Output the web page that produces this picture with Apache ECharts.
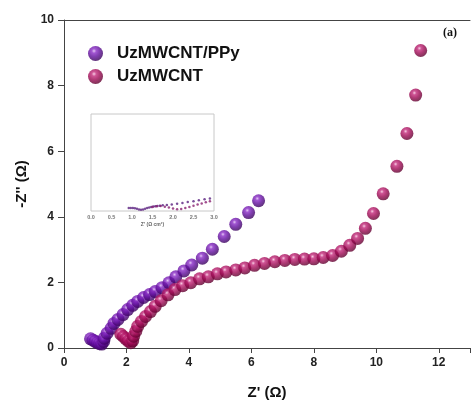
<!DOCTYPE html>
<html>
<head>
<meta charset="utf-8">
<script src="https://cdn.jsdelivr.net/npm/echarts@6/dist/echarts.min.js"></script>
<style>html,body{margin:0;padding:0;background:#fff;}#c{width:473px;height:405px;}</style>
</head>
<body>
<div id="c"></div>
<script>
// Main plot data [Z', -Z'']
var ppyData = [[0.85,0.28],[0.93,0.24],[1.0,0.2],[1.07,0.16],[1.14,0.13],[1.21,0.12],[1.27,0.2],[1.29,0.30],[1.38,0.45],[1.51,0.60],[1.60,0.75],[1.73,0.87],[1.89,1.02],[2.04,1.17],[2.20,1.30],[2.36,1.42],[2.55,1.54],[2.74,1.63],[2.92,1.72],[3.14,1.84],[3.36,1.99],[3.58,2.17],[3.84,2.35],[4.09,2.53],[4.43,2.74],[4.75,3.01],[5.13,3.40],[5.50,3.77],[5.91,4.13],[6.23,4.49]];
var mwcntData = [[1.82,0.42],[1.9,0.35],[1.98,0.28],[2.06,0.21],[2.14,0.16],[2.2,0.22],[2.23,0.36],[2.30,0.51],[2.36,0.66],[2.48,0.81],[2.61,0.96],[2.77,1.11],[2.92,1.27],[3.11,1.44],[3.33,1.62],[3.55,1.78],[3.80,1.90],[4.06,1.99],[4.34,2.11],[4.62,2.17],[4.91,2.26],[5.19,2.32],[5.50,2.38],[5.79,2.44],[6.10,2.52],[6.42,2.58],[6.75,2.63],[7.07,2.67],[7.39,2.70],[7.70,2.71],[8.00,2.72],[8.30,2.76],[8.60,2.82],[8.88,2.95],[9.15,3.13],[9.40,3.34],[9.65,3.65],[9.91,4.10],[10.22,4.70],[10.66,5.54],[10.98,6.54],[11.26,7.71],[11.42,9.07]];
// Inset data
var insetPpy = [[0.92,0.03],[0.97,0.03],[1.02,0.03],[1.07,0.028],[1.12,0.022],[1.17,0.015],[1.22,0.012],[1.27,0.015],[1.32,0.022],[1.37,0.03],[1.42,0.036],[1.47,0.042],[1.52,0.046],[1.57,0.05],[1.62,0.052],[1.68,0.055],[1.75,0.058],[1.85,0.062],[1.97,0.068],[2.1,0.075],[2.23,0.083],[2.36,0.092],[2.5,0.1],[2.63,0.11],[2.77,0.12],[2.9,0.13]];
var insetMwcnt = [[1.5,0.04],[1.6,0.048],[1.7,0.052],[1.8,0.045],[1.9,0.035],[2.0,0.025],[2.1,0.018],[2.2,0.02],[2.3,0.03],[2.4,0.042],[2.5,0.055],[2.6,0.066],[2.7,0.078],[2.8,0.09],[2.9,0.1]];
var xTicks = [0,2,4,6,8,10,12];
var yTicks = [0,2,4,6,8,10];
var insetXTicks = ['0.0','0.5','1.0','1.5','2.0','2.5','3.0'];
var seriesNames = ['UzMWCNT/PPy','UzMWCNT'];

function sphere(c0,c1,c2,c3){
  return {type:'radial',x:0.4,y:0.33,r:0.68,colorStops:[
    {offset:0,color:c0},{offset:0.22,color:c1},{offset:0.55,color:c2},{offset:1,color:c3}]};
}
var purple = sphere('#dcb6f2','#8a2cc6','#620e9e','#38005a');
var magenta = sphere('#f5c0dc','#c22a7a','#9e0954','#5e002d');
var font = 'Liberation Sans, Arial, sans-serif';

var chart = echarts.init(document.getElementById('c'));
chart.setOption({
  animation:false,
  backgroundColor:'#fff',
  legend:{
    data:seriesNames, orient:'vertical', left:83, top:40, itemGap:6,
    itemWidth:15, itemHeight:15, icon:'circle',
    textStyle:{fontFamily:font,fontWeight:'bold',fontSize:17,color:'#111',padding:[0,0,0,9]}
  },
  graphic:[{type:'text',left:443,top:27,style:{text:'(a)',font:'bold 12px "Liberation Serif", serif',fill:'#111'}}],
  grid:[
    {left:64,top:20,width:413,height:332},
    {left:91,top:114,width:123,height:97,show:true,borderColor:'#c8c8c8',borderWidth:1,backgroundColor:'transparent'}
  ],
  xAxis:[
    {gridIndex:0,type:'value',min:0,max:13,interval:2,
     name:"Z' (Ω)",nameLocation:'middle',nameGap:37,
     nameTextStyle:{fontFamily:font,fontWeight:'bold',fontSize:15,color:'#111'},
     axisLine:{lineStyle:{color:'#444',width:1}},
     axisTick:{show:true,length:5,lineStyle:{color:'#444'}},
     axisLabel:{fontFamily:font,fontWeight:'bold',fontSize:12,color:'#222',margin:9,
       formatter:function(v){return xTicks.indexOf(v)>=0?String(v):'';}},
     splitLine:{show:false}},
    {gridIndex:1,type:'value',min:0,max:3,interval:0.5,
     name:"Z' (Ω cm²)",nameLocation:'middle',nameGap:11,
     nameTextStyle:{fontFamily:font,fontWeight:'bold',fontSize:5,color:'#666'},
     axisLine:{show:false},axisTick:{show:false},
     axisLabel:{fontFamily:font,fontWeight:'bold',fontSize:5.5,color:'#777',margin:3,
       formatter:function(v){return insetXTicks[Math.round(v*2)];}},
     splitLine:{show:false}},
    {gridIndex:0,type:'value',position:'top',min:0,max:13,
     axisLine:{show:true,onZero:false,lineStyle:{color:'#444',width:1}},
     axisTick:{show:false},axisLabel:{show:false},splitLine:{show:false}}
  ],
  yAxis:[
    {gridIndex:0,type:'value',min:0,max:10,interval:2,
     name:"-Z'' (Ω)",nameLocation:'middle',nameGap:33,
     nameTextStyle:{fontFamily:font,fontWeight:'bold',fontSize:15,color:'#111'},
     axisLine:{show:true,lineStyle:{color:'#444',width:1}},
     axisTick:{show:true,length:6,lineStyle:{color:'#444'}},
     axisLabel:{fontFamily:font,fontWeight:'bold',fontSize:12,color:'#222',margin:10,
       formatter:function(v){return yTicks.indexOf(v)>=0?String(v):'';}},
     splitLine:{show:false}},
    {gridIndex:1,type:'value',min:0,max:1,
     axisLine:{show:false},axisTick:{show:false},axisLabel:{show:false},splitLine:{show:false}}
  ],
  series:[
    {name:seriesNames[0],type:'scatter',xAxisIndex:0,yAxisIndex:0,data:ppyData,
     symbolSize:13,itemStyle:{color:purple},z:3},
    {name:seriesNames[1],type:'scatter',xAxisIndex:0,yAxisIndex:0,data:mwcntData,
     symbolSize:13,itemStyle:{color:magenta},z:4},
    {name:'insetPpy',type:'scatter',xAxisIndex:1,yAxisIndex:1,data:insetPpy,
     symbolSize:2.5,itemStyle:{color:'#5a2080'},z:5},
    {name:'insetMwcnt',type:'scatter',xAxisIndex:1,yAxisIndex:1,data:insetMwcnt,
     symbolSize:2.5,itemStyle:{color:'#8a2070'},z:5}
  ]
});
</script>
</body>
</html>
